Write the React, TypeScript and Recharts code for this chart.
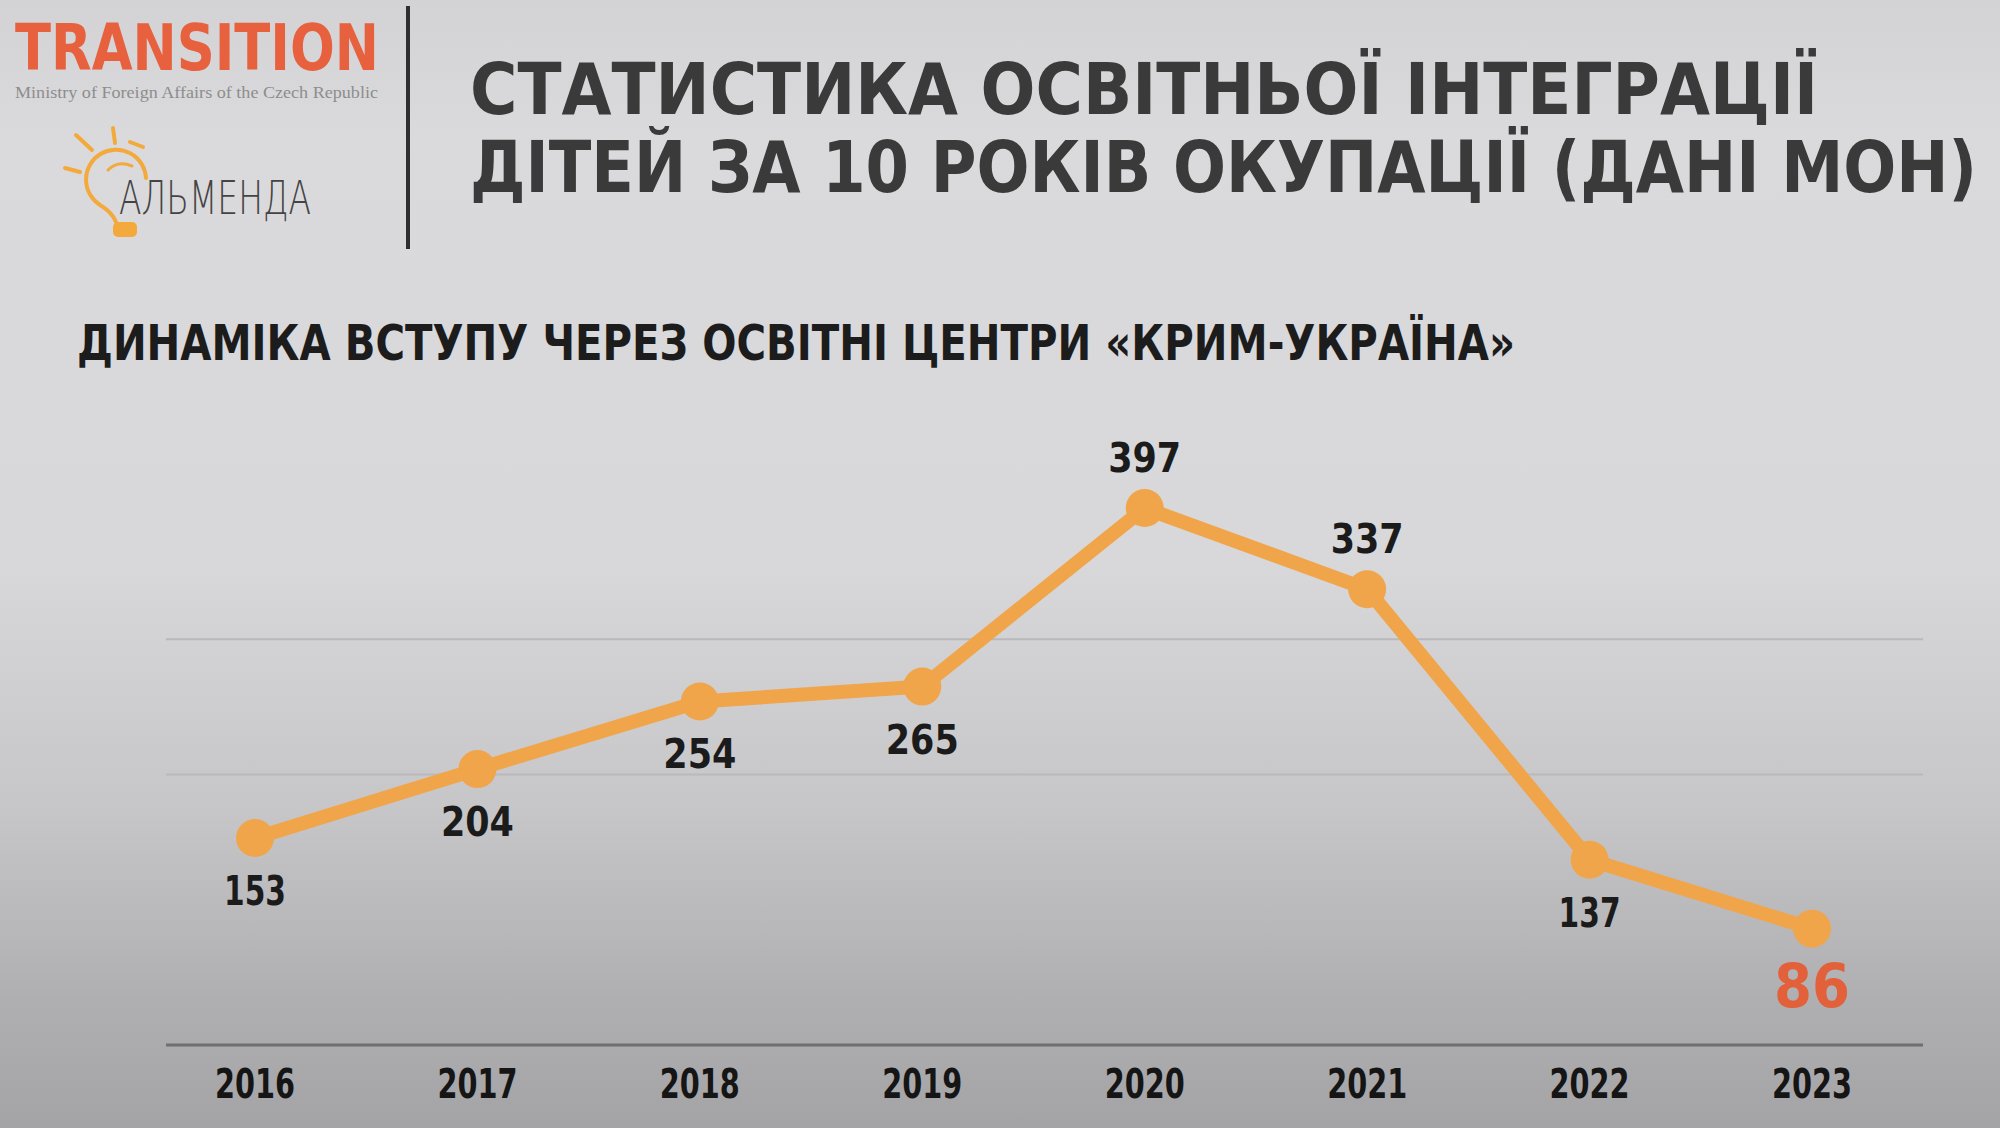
import { LineChart, Line, XAxis, YAxis, CartesianGrid, LabelList } from "recharts";

// Динаміка вступу через освітні центри «Крим-Україна»
const YEARS = ["2016", "2017", "2018", "2019", "2020", "2021", "2022", "2023"];
const ENROLLED = [153, 204, 254, 265, 397, 337, 137, 86];
const GRID_VALUES = [200, 300];
const Y_DOMAIN: [number, number] = [0, 400];
// роки, де підпис стоїть над точкою
const LABELS_ABOVE = ["2020", "2021"];

const TITLE_LINES = [
  "СТАТИСТИКА ОСВІТНЬОЇ ІНТЕГРАЦІЇ",
  "ДІТЕЙ ЗА 10 РОКІВ ОКУПАЦІЇ (ДАНІ МОН)",
];
const SUBTITLE = "ДИНАМІКА ВСТУПУ ЧЕРЕЗ ОСВІТНІ ЦЕНТРИ «КРИМ-УКРАЇНА»";

const rows = YEARS.map((year, i) => ({ year, value: ENROLLED[i] }));

const ORANGE = "#f1a54b";
const FONT = "'DejaVu Sans', Verdana, sans-serif";

const renderValueLabel = (props: any) => {
  const { x, y, value, index } = props;
  const isLast = index === ENROLLED.length - 1;
  const above = LABELS_ABOVE.includes(YEARS[index]);
  if (isLast) {
    return (
      <text
        x={x}
        y={y + 78}
        textAnchor="middle"
        fontFamily={FONT}
        fontWeight={700}
        fontSize={60}
        fill="#e2603a"
        textLength={76}
        lengthAdjust="spacingAndGlyphs"
      >
        {value}
      </text>
    );
  }
  return (
    <text
      x={x}
      y={above ? y - 36 : y + 67}
      textAnchor="middle"
      fontFamily={FONT}
      fontWeight={700}
      fontSize={40}
      fill="#1b1b1b"
      textLength={String(value).startsWith("1") ? 62 : 73}
      lengthAdjust="spacingAndGlyphs"
    >
      {value}
    </text>
  );
};

const renderYearTick = (props: any) => {
  const { x, y, payload } = props;
  return (
    <text
      x={x}
      y={y + 53}
      textAnchor="middle"
      fontFamily={FONT}
      fontWeight={700}
      fontSize={40}
      fill="#151515"
      textLength={80}
      lengthAdjust="spacingAndGlyphs"
    >
      {payload.value}
    </text>
  );
};

function Header() {
  return (
    <svg
      width={2000}
      height={400}
      style={{ position: "absolute", left: 0, top: 0 }}
    >
      {/* логотип TRANSITION */}
      <text
        x={15}
        y={70}
        fontFamily="'DejaVu Sans Condensed', 'DejaVu Sans', sans-serif"
        fontWeight={700}
        fontSize={64}
        fill="#e8613f"
        textLength={364}
        lengthAdjust="spacingAndGlyphs"
      >
        TRANSITION
      </text>
      <text
        x={15}
        y={98}
        fontFamily="'Liberation Serif', serif"
        fontSize={16}
        fill="#8d8d8d"
        textLength={363}
        lengthAdjust="spacingAndGlyphs"
      >
        Ministry of Foreign Affairs of the Czech Republic
      </text>

      {/* лампочка Альменда */}
      <g stroke="#f3a93c" strokeWidth={4} strokeLinecap="round" fill="none">
        <line x1={76} y1={135} x2={92} y2={150} />
        <line x1={113} y1={128} x2={115} y2={143} />
        <line x1={130} y1={142} x2={143} y2={147} />
        <line x1={65} y1={168} x2={80} y2={172} />
        <path d="M 146 178 A 30 30 0 1 0 100 205 Q 112 212 116 222" />
        <path d="M 108 170 Q 118 160 132 166" strokeWidth={3} />
      </g>
      <rect x={113} y={222} width={24} height={15} rx={5} fill="#f3a93c" />
      <text
        x={119}
        y={214}
        fontFamily="'DejaVu Sans', sans-serif"
        fontWeight={200}
        fontSize={46}
        fill="#444"
        textLength={192}
        lengthAdjust="spacingAndGlyphs"
      >
        АЛЬМЕНДА
      </text>

      <line x1={408} y1={6} x2={408} y2={249} stroke="#2f2f2f" strokeWidth={4} />

      {/* заголовок */}
      <text
        x={470}
        y={114}
        fontFamily={FONT}
        fontWeight={700}
        fontSize={71}
        fill="#3a3a3a"
        textLength={1348}
        lengthAdjust="spacingAndGlyphs"
      >
        {TITLE_LINES[0]}
      </text>
      <text
        x={470}
        y={192}
        fontFamily={FONT}
        fontWeight={700}
        fontSize={71}
        fill="#3a3a3a"
        textLength={1507}
        lengthAdjust="spacingAndGlyphs"
      >
        {TITLE_LINES[1]}
      </text>
      <text
        x={77}
        y={360}
        fontFamily={FONT}
        fontWeight={700}
        fontSize={49}
        fill="#1c1c1c"
        textLength={1438}
        lengthAdjust="spacingAndGlyphs"
      >
        {SUBTITLE}
      </text>
    </svg>
  );
}

export default function App() {
  return (
    <div
      style={{
        position: "relative",
        width: 2000,
        height: 1128,
        overflow: "hidden",
        background:
          "linear-gradient(to bottom, #d3d3d5 0%, #dadadc 12%, #d8d8da 50%, #c6c6c8 72%, #b0b0b2 88%, #a4a4a6 100%)",
      }}
    >
      <style>{"body{margin:0}"}</style>
      <Header />
      <div style={{ position: "absolute", left: 0, top: 0 }}>
        <LineChart
          width={2000}
          height={1128}
          data={rows}
          margin={{ top: 504, right: 77, left: 166, bottom: 23 }}
        >
          <CartesianGrid
            vertical={false}
            horizontalValues={GRID_VALUES}
            stroke="#b9b9bb"
            strokeWidth={2}
          />
          <XAxis
            dataKey="year"
            height={60}
            padding={{ left: 89, right: 111 }}
            axisLine={{ stroke: "#6f6f71", strokeWidth: 3 }}
            tickLine={false}
            tickSize={0}
            tickMargin={0}
            interval={0}
            tick={renderYearTick}
          />
          <YAxis hide domain={Y_DOMAIN} ticks={GRID_VALUES} />
          <Line
            type="linear"
            dataKey="value"
            stroke={ORANGE}
            strokeWidth={14}
            strokeLinejoin="round"
            dot={{ r: 19, fill: ORANGE, stroke: "none" }}
            isAnimationActive={false}
          >
            <LabelList dataKey="value" content={renderValueLabel} />
          </Line>
        </LineChart>
      </div>
    </div>
  );
}
